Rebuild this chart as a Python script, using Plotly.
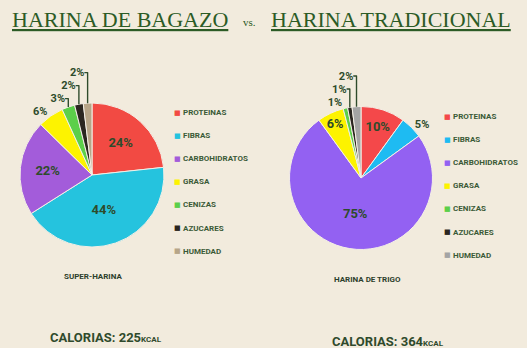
import plotly.graph_objects as go

# ---- data ----
categories = ["PROTEINAS", "FIBRAS", "CARBOHIDRATOS", "GRASA", "CENIZAS", "AZUCARES", "HUMEDAD"]
bagazo_values = [24, 44, 22, 6, 3, 2, 2]
trigo_values = [10, 5, 75, 6, 1, 1, 2]
bagazo_colors = ["#F24A43", "#25C3DE", "#A35CDA", "#FDF300", "#5CCF4A", "#2B2620", "#B7A588"]
trigo_colors = ["#F4484A", "#1EBBF2", "#9361F2", "#FDF300", "#5CCF4A", "#2B2620", "#A4A4A4"]
bagazo_name = "SUPER-HARINA"
trigo_name = "HARINA DE TRIGO"
bagazo_kcal = 225
trigo_kcal = 364

W, H = 527, 348
BG = "#F2EBDD"
GREEN = "#2E4B2B"

def fx(px):
    return px / W

def fy(py):
    return 1 - py / H

bagazo_pos = ["inside", "inside", "inside", "outside", "outside", "outside", "outside"]
trigo_pos = ["inside", "outside", "inside", "inside", "outside", "outside", "outside"]

fig = go.Figure()

def add_pie(values, colors, pos, cx, cy, r, name):
    fig.add_trace(go.Pie(
        labels=categories, values=values, name=name,
        marker=dict(colors=colors, line=dict(color="#F4EFE6", width=1)),
        sort=False, direction="clockwise", rotation=0,
        texttemplate="%{value}%", textposition=pos,
        textfont=dict(family="Roboto", size=13, color=GREEN, weight="bold"),
        insidetextfont=dict(family="Roboto", size=13, color=GREEN, weight="bold"),
        outsidetextfont=dict(family="Roboto", size=11, color=GREEN, weight="bold"),
        insidetextorientation="horizontal",
        showlegend=False,
        domain=dict(x=[fx(cx - r), fx(cx + r)], y=[fy(cy + r), fy(cy - r)]),
    ))

add_pie(bagazo_values, bagazo_colors, bagazo_pos, 92, 175, 72, bagazo_name)
add_pie(trigo_values, trigo_colors, trigo_pos, 361, 178, 71.5, trigo_name)

ann = []

def legend(colors, mx, y0, step):
    for i, (c, col) in enumerate(zip(categories, colors)):
        y = y0 + i * step
        ann.append(dict(x=fx(mx), y=fy(y), text="■", showarrow=False,
                        xanchor="center", yanchor="middle",
                        font=dict(family="DejaVu Sans", size=7, color=col)))
        ann.append(dict(x=fx(mx + 4), y=fy(y), text=c, showarrow=False,
                        xanchor="left", yanchor="middle",
                        font=dict(family="Roboto", size=8, color="#3B5A37", weight="bold")))

legend(bagazo_colors, 177, 112.5, 23.1)
legend(trigo_colors, 447, 116.5, 23.1)

# subtitles
ann.append(dict(x=fx(93), y=fy(276), text=bagazo_name, showarrow=False,
                xanchor="center", yanchor="middle",
                font=dict(family="Roboto", size=8, color="#2D3F2C", weight="bold")))
ann.append(dict(x=fx(367), y=fy(279), text=trigo_name, showarrow=False,
                xanchor="center", yanchor="middle",
                font=dict(family="Roboto", size=8, color="#2D3F2C", weight="bold")))

# calories
ann.append(dict(x=fx(48), y=fy(337), text=f"CALORIAS: {bagazo_kcal}<span style='font-size:8px'>KCAL</span>",
                showarrow=False, xanchor="left", yanchor="middle",
                font=dict(family="Roboto", size=13, color="#2F4A2C", weight="bold")))
ann.append(dict(x=fx(330), y=fy(341), text=f"CALORIAS: {trigo_kcal}<span style='font-size:8px'>KCAL</span>",
                showarrow=False, xanchor="left", yanchor="middle",
                font=dict(family="Roboto", size=13, color="#2F4A2C", weight="bold")))

# title
TITLE_GREEN = "#2C5B25"
ann.append(dict(x=fx(120), y=fy(19), text="<u>HARINA DE BAGAZO</u>", showarrow=False,
                xanchor="center", yanchor="middle",
                font=dict(family="Liberation Serif", size=22, color=TITLE_GREEN)))
ann.append(dict(x=fx(249), y=fy(22), text="vs.", showarrow=False,
                xanchor="center", yanchor="middle",
                font=dict(family="Liberation Serif", size=11, color=TITLE_GREEN)))
ann.append(dict(x=fx(391), y=fy(19), text="<u>HARINA TRADICIONAL</u>", showarrow=False,
                xanchor="center", yanchor="middle",
                font=dict(family="Liberation Serif", size=22, color=TITLE_GREEN)))

fig.update_layout(
    width=W, height=H,
    margin=dict(l=0, r=0, t=0, b=0),
    paper_bgcolor=BG, plot_bgcolor=BG,
    annotations=ann,
)

fig.write_html("out.html")
